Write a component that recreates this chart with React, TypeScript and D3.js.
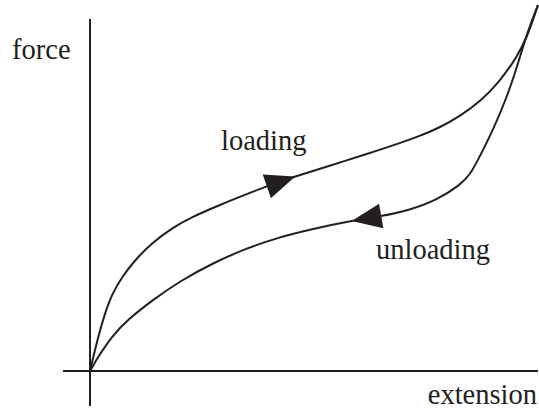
import { useEffect, useRef } from 'react';
import * as d3 from 'd3';

// extension (x) and force (y), both on a 0..100 scale
const loadingX = [0, 1.79, 3.35, 4.91, 7.14, 10.04, 13.84, 18.3, 22.77, 27.9, 34.15, 40.18, 45.76, 52.9, 62.5, 67.63, 73.66, 78.13, 82.59, 87.05, 91.52, 95.31, 97.54, 99.33, 100];
const loadingY = [0, 9.29, 15.85, 21.04, 25.68, 30.33, 34.97, 39.07, 42.08, 44.81, 47.95, 50.82, 53.14, 55.87, 59.56, 61.61, 64.21, 66.53, 69.67, 73.5, 79.23, 85.79, 91.26, 97.54, 100];

const unloadingX = [0, 1.79, 4.91, 8.48, 13.84, 20.09, 27.46, 35.04, 42.41, 49.11, 58.71, 64.73, 71.43, 77.46, 82.59, 84.82, 87.05, 89.96, 93.08, 95.31, 97.1, 98.66, 100];
const unloadingY = [0, 3.83, 9.56, 14.07, 19.26, 24.59, 29.51, 33.61, 36.61, 38.66, 41.12, 42.21, 43.99, 46.72, 50.82, 53.55, 58.74, 65.85, 74.86, 83.06, 90.44, 95.9, 100];

// where the arrow tips sit (extension value) and which way they point
const arrowTipX = [45.8, 58.4];
const arrowDir = [1, -1];

const labels = ['force', 'loading', 'unloading', 'extension'];

export default function App() {
  const ref = useRef<SVGSVGElement | null>(null);

  useEffect(() => {
    if (!ref.current) return;
    const width = 539;
    const height = 416;
    const svg = d3.select(ref.current);
    svg.selectAll('*').remove();

    const x = d3.scaleLinear().domain([0, 100]).range([90, 538]);
    const y = d3.scaleLinear().domain([0, 100]).range([371, 5]);

    const font = "'Liberation Serif', 'Times New Roman', Times, serif";

    // axes
    svg.append('line')
      .attr('x1', x(0)).attr('x2', x(0))
      .attr('y1', 19).attr('y2', 406)
      .attr('stroke', '#231f20').attr('stroke-width', 2);
    svg.append('line')
      .attr('x1', 63).attr('x2', width - 1)
      .attr('y1', y(0)).attr('y2', y(0))
      .attr('stroke', '#231f20').attr('stroke-width', 2);

    const line = d3.line<[number, number]>()
      .x((d) => x(d[0]))
      .y((d) => y(d[1]))
      .curve(d3.curveBasis);

    const series = [
      d3.zip(loadingX, loadingY) as [number, number][],
      d3.zip(unloadingX, unloadingY) as [number, number][],
    ];

    const paths = series.map((pts) =>
      svg.append('path')
        .attr('d', line(pts))
        .attr('fill', 'none')
        .attr('stroke', '#231f20')
        .attr('stroke-width', 2)
        .node() as SVGPathElement
    );

    // arrowheads placed on the curves
    paths.forEach((p, i) => {
      const total = p.getTotalLength();
      const target = x(arrowTipX[i]);
      let lo = 0, hi = total;
      for (let k = 0; k < 40; k++) {
        const mid = (lo + hi) / 2;
        if (p.getPointAtLength(mid).x < target) lo = mid; else hi = mid;
      }
      const tip = p.getPointAtLength(lo);
      const back = p.getPointAtLength(Math.max(0, Math.min(total, lo - arrowDir[i] * 30)));
      const dx = tip.x - back.x, dy = tip.y - back.y;
      const len = Math.hypot(dx, dy);
      const ux = dx / len, uy = dy / len;
      const L = 30, W = 12.5;
      const bx = tip.x - ux * L, by = tip.y - uy * L;
      const tri = [
        [tip.x, tip.y],
        [bx - uy * W, by + ux * W],
        [bx + uy * W, by - ux * W],
      ];
      svg.append('path')
        .attr('d', 'M' + tri.map((t) => t.join(',')).join('L') + 'Z')
        .attr('fill', '#231f20');
    });

    const text = svg.append('g')
      .style('font-family', font)
      .style('font-size', '28.5px')
      .attr('fill', '#231f20');
    text.append('text').attr('x', 12).attr('y', 59).text(labels[0]);
    text.append('text').attr('x', 221).attr('y', 150).text(labels[1]);
    text.append('text').attr('x', 376).attr('y', 259).text(labels[2]);
    text.append('text').attr('x', 537).attr('y', 404).attr('text-anchor', 'end').text(labels[3]);

    svg.attr('width', width).attr('height', height);
  }, []);

  return (
    <div style={{ position: 'absolute', left: 0, top: 0, background: '#fff' }}>
      <svg ref={ref} width={539} height={416} style={{ display: 'block' }} />
    </div>
  );
}
